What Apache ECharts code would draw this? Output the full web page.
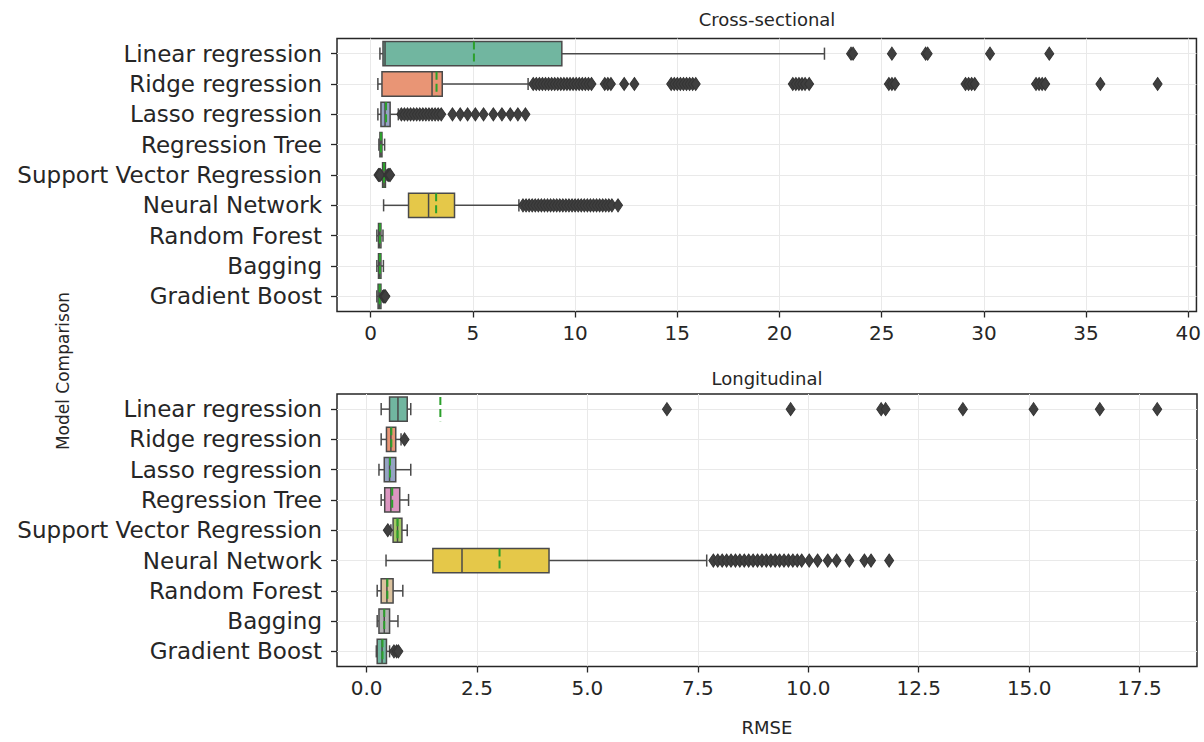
<!DOCTYPE html>
<html><head><meta charset="utf-8">
<script src="https://cdn.jsdelivr.net/npm/echarts@6/dist/echarts.min.js"></script>
<style>html,body{margin:0;padding:0;background:#fff}#c{width:1204px;height:742px}</style>
</head><body><div id="c"></div>
<script>
const categories = ['Linear regression','Ridge regression','Lasso regression','Regression Tree','Support Vector Regression','Neural Network','Random Forest','Bagging','Gradient Boost'];

// box statistics per model: [lower whisker, Q1, median, Q3, upper whisker, mean]
const crossStats = [
  [0.45, 0.60, 0.70, 9.35, 22.2, 5.05],
  [0.35, 0.55, 3.00, 3.50, 7.70, 3.22],
  [0.35, 0.50, 0.70, 0.95, 1.35, 0.75],
  [0.40, 0.45, 0.50, 0.55, 0.68, 0.50],
  [0.50, 0.58, 0.65, 0.72, 0.80, 0.65],
  [0.63, 1.85, 2.83, 4.10, 7.25, 3.20],
  [0.30, 0.38, 0.42, 0.50, 0.60, 0.45],
  [0.30, 0.38, 0.42, 0.50, 0.62, 0.45],
  [0.30, 0.36, 0.42, 0.50, 0.58, 0.44]
];
const longStats = [
  [0.33, 0.52, 0.71, 0.92, 1.00, 1.67],
  [0.33, 0.45, 0.55, 0.66, 0.78, 0.56],
  [0.28, 0.40, 0.52, 0.66, 1.00, 0.53],
  [0.33, 0.41, 0.55, 0.75, 0.95, 0.58],
  [0.55, 0.60, 0.70, 0.80, 0.92, 0.70],
  [0.44, 1.50, 2.16, 4.13, 7.70, 3.01],
  [0.24, 0.33, 0.46, 0.60, 0.82, 0.47],
  [0.24, 0.28, 0.40, 0.52, 0.71, 0.40],
  [0.22, 0.24, 0.35, 0.45, 0.52, 0.36]
];

// outliers per model (same order as categories)
const crossOutliers = [
  [23.5, 23.6, 25.5, 27.15, 27.25, 30.3, 33.2],
  [7.95, 8.1, 8.25, 8.4, 8.55, 8.7, 8.85, 9.0, 9.15, 9.3, 9.45, 9.6, 9.75, 9.9, 10.05, 10.2, 10.35, 10.5, 10.65, 10.8,
   11.45, 11.6, 11.75, 12.4, 12.9,
   14.7, 14.85, 15.0, 15.15, 15.3, 15.45, 15.6, 15.75, 15.9,
   20.65, 20.8, 20.95, 21.1, 21.25, 21.45,
   25.35, 25.5, 25.65, 29.1, 29.25, 29.4, 29.55, 32.55, 32.7, 32.85, 33.0, 35.7, 38.5],
  [1.5, 1.65, 1.8, 1.95, 2.1, 2.25, 2.4, 2.55, 2.7, 2.85, 3.0, 3.15, 3.3, 3.45,
   4.0, 4.38, 4.74, 5.12, 5.52, 6.0, 6.42, 6.83, 7.2, 7.57],
  [],
  [0.38, 0.42, 0.46, 0.85, 0.9, 0.95],
  [7.45, 7.6, 7.75, 7.9, 8.05, 8.2, 8.35, 8.5, 8.65, 8.8, 8.95, 9.1, 9.25, 9.4, 9.55, 9.7, 9.85, 10.0, 10.15, 10.3,
   10.45, 10.6, 10.75, 10.9, 11.05, 11.2, 11.35, 11.5, 11.65, 11.8, 12.1],
  [],
  [],
  [0.62, 0.67, 0.72]
];
const longOutliers = [
  [6.8, 9.6, 11.65, 11.75, 13.5, 15.1, 16.6, 17.9],
  [0.86],
  [],
  [],
  [0.48],
  [7.85, 7.95, 8.05, 8.15, 8.25, 8.35, 8.45, 8.55, 8.65, 8.75, 8.85, 8.95, 9.05, 9.15, 9.25, 9.35, 9.45, 9.55, 9.65, 9.75, 9.85,
   10.02, 10.21, 10.44, 10.64, 10.93, 11.27, 11.42, 11.83],
  [],
  [],
  [0.62, 0.68, 0.72]
];

const crossRange = [-1.65, 40.4];
const longRange = [-0.67, 18.8];
const boxColors = ['#71b6a0','#e99575','#95a3c3','#dc96c1','#a2c864','#e5c849','#dbc29e','#b3b3b3','#71b6a0'];

const FONT = 'DejaVu Sans';
const TXT = '#262626';
const GRIDC = '#e9e9e9';

function boxRenderer(params, api) {
  const c = api.value(0);
  const lo = api.value(1), q1 = api.value(2), md = api.value(3), q3 = api.value(4), hi = api.value(5), mn = api.value(6);
  const band = api.size([0, 1])[1];
  const h = band * 0.8, cap = h * 0.5;
  const y = api.coord([0, c])[1];
  const X = v => api.coord([v, c])[0];
  const stroke = '#4a4a4a', lw = 1.5;
  return {
    type: 'group',
    children: [
      {type: 'line', shape: {x1: X(lo), y1: y, x2: X(q1), y2: y}, style: {stroke, lineWidth: lw}},
      {type: 'line', shape: {x1: X(q3), y1: y, x2: X(hi), y2: y}, style: {stroke, lineWidth: lw}},
      {type: 'line', shape: {x1: X(lo), y1: y - cap / 2, x2: X(lo), y2: y + cap / 2}, style: {stroke, lineWidth: lw}},
      {type: 'line', shape: {x1: X(hi), y1: y - cap / 2, x2: X(hi), y2: y + cap / 2}, style: {stroke, lineWidth: lw}},
      {type: 'rect', shape: {x: X(q1), y: y - h / 2, width: X(q3) - X(q1), height: h},
       style: {fill: boxColors[params.dataIndex], stroke, lineWidth: lw}},
      {type: 'line', shape: {x1: X(md), y1: y - h / 2, x2: X(md), y2: y + h / 2}, style: {stroke, lineWidth: lw}},
      {type: 'line', shape: {x1: X(mn), y1: y - h / 2, x2: X(mn), y2: y + h / 2},
       style: {stroke: '#2ca02c', lineWidth: 2, lineDash: [8, 4]}}
    ]
  };
}

function statData(stats) { return stats.map((s, i) => [i].concat(s)); }
function outlierData(outs) {
  const d = [];
  outs.forEach((arr, i) => arr.forEach(v => d.push([v, i])));
  return d;
}

function xAxisFor(gridIndex, range, step, fmt, withName) {
  const ax = {
    type: 'value', gridIndex, min: range[0], max: range[1],
    splitNumber: Math.round((range[1] - range[0]) / step),
    minInterval: step, maxInterval: step,
    axisLine: {show: false, onZero: false},
    axisTick: {show: true, length: 6, lineStyle: {color: TXT, width: 1.3}},
    axisLabel: {show: true, showMinLabel: false, showMaxLabel: false, margin: 11,
      fontFamily: FONT, fontSize: 20, color: TXT, formatter: fmt},
    splitLine: {show: true, showMinLine: false, showMaxLine: false, lineStyle: {color: GRIDC, width: 1}}
  };
  if (withName) {
    ax.name = 'RMSE';
    ax.nameLocation = 'middle';
    ax.nameGap = 52;
    ax.nameTextStyle = {fontFamily: FONT, fontSize: 18, color: TXT};
  }
  return ax;
}
function yCatAxis(gridIndex) {
  return {
    type: 'category', gridIndex, data: categories, inverse: true, position: 'left',
    axisLine: {show: false, onZero: false},
    axisTick: {show: true, alignWithLabel: true, length: 6, lineStyle: {color: TXT, width: 1.3}},
    axisLabel: {fontFamily: FONT, fontSize: 23, color: TXT, margin: 15},
    splitLine: {show: false}
  };
}
function yGridAxis(gridIndex) {
  return {
    type: 'value', gridIndex, min: -0.5, max: 8.5, splitNumber: 9, minInterval: 1, maxInterval: 1, position: 'right',
    axisLine: {show: false, onZero: false}, axisTick: {show: false}, axisLabel: {show: false},
    splitLine: {show: true, showMinLine: false, showMaxLine: false, lineStyle: {color: GRIDC, width: 1}}
  };
}

const chart = echarts.init(document.getElementById('c'), null, {renderer: 'svg'});
chart.setOption({
  animation: false,
  backgroundColor: '#fff',
  grid: [
    {left: 337, top: 38.5, width: 860, height: 273, show: true, borderColor: '#262626', borderWidth: 1.5, backgroundColor: 'transparent'},
    {left: 337, top: 394, width: 860, height: 272.5, show: true, borderColor: '#262626', borderWidth: 1.5, backgroundColor: 'transparent'}
  ],
  xAxis: [
    xAxisFor(0, crossRange, 5, v => String(v), false),
    xAxisFor(1, longRange, 2.5, v => v.toFixed(1), true)
  ],
  yAxis: [yCatAxis(0), yCatAxis(1), yGridAxis(0), yGridAxis(1)],
  graphic: [
    {type: 'text', x: 767, y: 19, style: {text: 'Cross-sectional', font: '18px "DejaVu Sans"', fill: TXT, align: 'center', verticalAlign: 'middle'}},
    {type: 'text', x: 767, y: 378, style: {text: 'Longitudinal', font: '18px "DejaVu Sans"', fill: TXT, align: 'center', verticalAlign: 'middle'}},
    {type: 'text', x: 63, y: 371, rotation: Math.PI / 2, style: {text: 'Model Comparison', font: '17px "DejaVu Sans"', fill: TXT, align: 'center', verticalAlign: 'middle'}}
  ],
  series: [
    {type: 'custom', xAxisIndex: 0, yAxisIndex: 0, renderItem: boxRenderer, data: statData(crossStats),
     encode: {x: [1, 2, 3, 4, 5, 6], y: 0}, z: 2, clip: false},
    {type: 'custom', xAxisIndex: 1, yAxisIndex: 1, renderItem: boxRenderer, data: statData(longStats),
     encode: {x: [1, 2, 3, 4, 5, 6], y: 0}, z: 2, clip: false},
    {type: 'scatter', xAxisIndex: 0, yAxisIndex: 0, data: outlierData(crossOutliers), symbol: 'diamond', symbolSize: [9, 13],
     itemStyle: {color: '#3f3f3f', borderColor: '#353535', borderWidth: 1, opacity: 1}, z: 3},
    {type: 'scatter', xAxisIndex: 1, yAxisIndex: 1, data: outlierData(longOutliers), symbol: 'diamond', symbolSize: [9, 13],
     itemStyle: {color: '#3f3f3f', borderColor: '#353535', borderWidth: 1, opacity: 1}, z: 3}
  ]
});
</script></body></html>
